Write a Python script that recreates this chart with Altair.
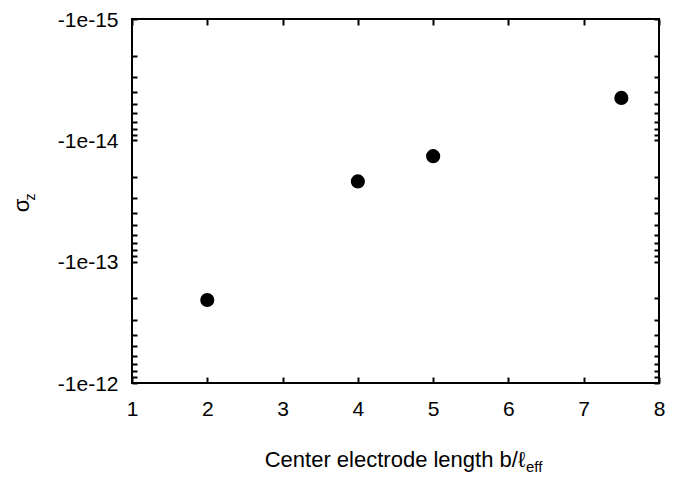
import altair as alt
import pandas as pd

# data
x_vals = [2, 4, 5, 7.5]
sigma_z = [-2.07e-13, -2.18e-14, -1.35e-14, -4.47e-15]

# axis ticks
x_ticks = [1, 2, 3, 4, 5, 6, 7, 8]
y_major = [-1e-15, -1e-14, -1e-13, -1e-12]
y_minor = [-k * 10.0 ** e for e in (-15, -14, -13) for k in range(1, 10)] + [-1e-12]

x_title = "Center electrode length b/ℓ"
x_title_sub = "eff"
y_title = "σ"
y_title_sub = "z"

W, H = 527, 364
TOP = 11
FONT = "Liberation Sans"
LBL = 21

df = pd.DataFrame({"x": x_vals, "y": sigma_z})
xs = alt.Scale(domain=[1, 8], nice=False, zero=False)
ys = alt.Scale(type="log", domain=[-1e-12, -1e-15], nice=False)

base = alt.Chart(df)

points = base.mark_circle(size=200, color="black", opacity=1).encode(
    x=alt.X("x:Q", scale=xs, axis=alt.Axis(
        orient="bottom", values=x_ticks, ticks=False, domain=False, grid=False,
        labelFont=FONT, labelFontSize=LBL, labelColor="black", labelPadding=15,
        labelFlush=False, labelOverlap=False, title=None)),
    y=alt.Y("y:Q", scale=ys, axis=alt.Axis(
        orient="left", values=y_major, ticks=False, domain=False, grid=False,
        labelFont=FONT, labelFontSize=LBL, labelColor="black", labelPadding=14,
        labelOffset=1, labelOverlap=False, title=None,
        labelExpr="'-1e' + round(log(abs(datum.value))/LN10)")),
)


def tick_layer(xo, yo):
    return base.mark_circle(opacity=0).encode(
        x=alt.X("x:Q", scale=xs, axis=alt.Axis(
            orient=xo, offset=-H, values=x_ticks, labels=False, domain=False,
            grid=False, ticks=True, tickSize=6, tickWidth=2, tickColor="black",
            title=None)),
        y=alt.Y("y:Q", scale=ys, axis=alt.Axis(
            orient=yo, offset=-W, values=y_minor, labels=False, domain=False,
            grid=False, ticks=True, tickSize=5, tickWidth=2, tickColor="black",
            title=None)),
    )


def txt(s, x, y, size, angle=0, align="center", baseline="alphabetic"):
    return alt.Chart(pd.DataFrame({"t": [s]})).mark_text(
        font=FONT, fontSize=size, angle=angle, align=align, baseline=baseline,
        color="black").encode(text="t:N", x=alt.value(x), y=alt.value(y))


chart = alt.layer(
    tick_layer("top", "right"),
    tick_layer("bottom", "left"),
    points,
    txt(x_title, 393, 447.5, 22, align="right"),
    txt(x_title_sub, 394, 452.5, 15, align="left"),
    txt(y_title, -110, 186.5, 22, angle=270, baseline="middle"),
    txt(y_title_sub, -101, 178, 14, angle=270, baseline="middle"),
).resolve_axis(x="independent", y="independent").properties(
    width=W, height=H,
    autosize=alt.AutoSizeParams(type="none"),
    padding={"left": 124, "top": TOP, "right": 23, "bottom": 92},
).configure_view(stroke="black", strokeWidth=2)

chart.save("out.html", embed_options={"renderer": "svg", "actions": False})
